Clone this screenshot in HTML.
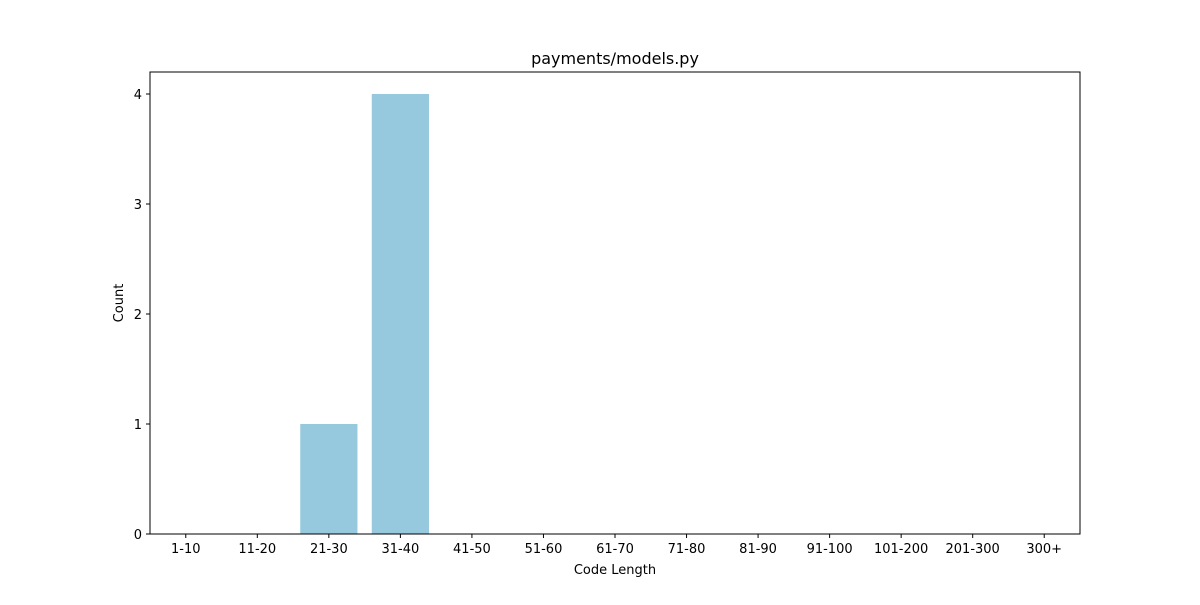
<!DOCTYPE html>
<html><head><meta charset="utf-8"><style>
body{margin:0;background:#fff;}
svg text{font-family:"DejaVu Sans","Liberation Sans",sans-serif;fill:#000;}
</style></head><body>
<svg width="1200" height="600" xmlns="http://www.w3.org/2000/svg">
<rect width="1200" height="600" fill="#fff"/>
<g id="bars"></g>
<g id="xticks"></g>
<g id="yticks"></g>
<rect x="150" y="72" width="930" height="462" fill="none" stroke="#000" stroke-width="1"/>
<text x="615" y="64" text-anchor="middle" font-size="16">payments/models.py</text>
<text x="615" y="574" text-anchor="middle" font-size="13">Code Length</text>
<text x="123" y="303" text-anchor="middle" font-size="13" transform="rotate(-90 123 303)">Count</text>
</svg>
<script>
const categories=["1-10","11-20","21-30","31-40","41-50","51-60","61-70","71-80","81-90","91-100","101-200","201-300","300+"];
const counts=[0,0,1,4,0,0,0,0,0,0,0,0,0];
const yTicks=[0,1,2,3,4];
const NS="http://www.w3.org/2000/svg";
const L=150,R=1080,T=72,B=534,YMAX=4.2;
const step=(R-L)/categories.length;
function xs(i){return L+step*(i+0.5);}
function ys(v){return B-(B-T)*v/YMAX;}
function mk(tag,attrs,parent){const e=document.createElementNS(NS,tag);for(const k in attrs)e.setAttribute(k,attrs[k]);parent.appendChild(e);return e;}
const gb=document.getElementById('bars'),gx=document.getElementById('xticks'),gy=document.getElementById('yticks');
counts.forEach((v,i)=>{
  const w=step*0.8;
  const r=mk('rect',{x:xs(i)-w/2,y:ys(v),width:w,height:B-ys(v),fill:'#96c9dd'},gb);
  
  
});
categories.forEach((c,i)=>{
  const l=mk('line',{x1:xs(i),x2:xs(i),y1:B,y2:B+4,stroke:'#000'},gx);
  
  
  const t=mk('text',{x:xs(i),y:B+19,'text-anchor':'middle','font-size':'13'},gx);
  t.textContent=c;
  
  
});
yTicks.forEach(v=>{
  const l=mk('line',{x1:L-4,x2:L,y1:ys(v),y2:ys(v),stroke:'#000'},gy);
  
  
  const t=mk('text',{x:L-8,y:ys(v)+5,'text-anchor':'end','font-size':'13'},gy);
  t.textContent=v;
  
  
});
</script>
</body></html>
